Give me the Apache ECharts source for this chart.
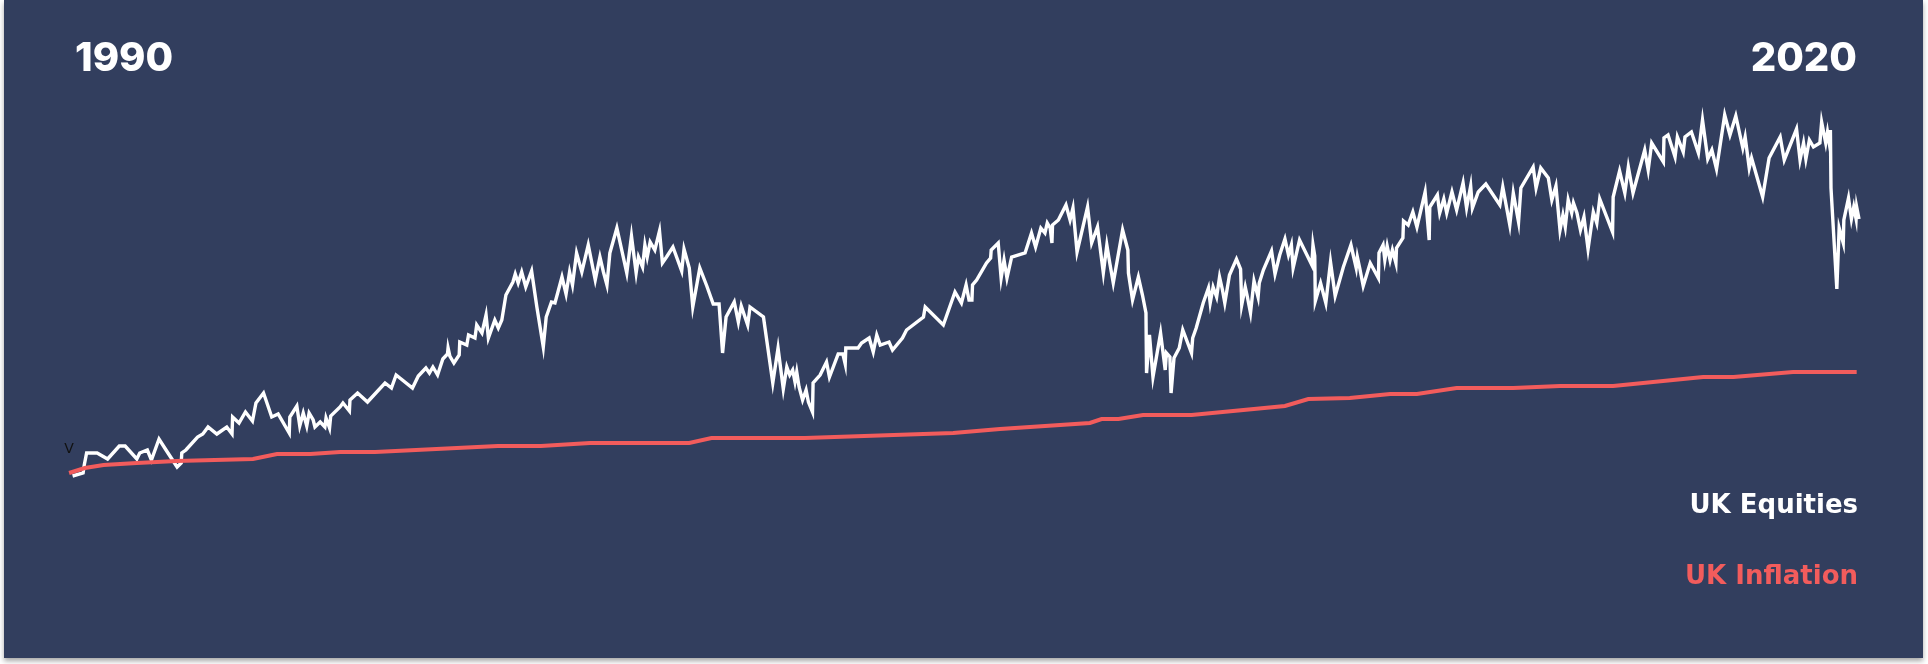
<!DOCTYPE html>
<html><head><meta charset="utf-8">
<script src="https://cdn.jsdelivr.net/npm/echarts/dist/echarts.min.js"></script>
<style>
html,body{margin:0;padding:0;background:#fff;width:1928px;height:664px;overflow:hidden}
#panel{position:absolute;left:4px;top:0;width:1919px;height:658px;background:#323E5E;box-shadow:0 3px 5px rgba(0,0,0,0.35)}
#chart{position:absolute;left:0;top:0;width:1928px;height:664px}
</style></head><body><div id="panel"></div><div id="chart"></div>
<script>
// years since Jan 1990, equity index values
var eqT = [0.01,0.19,0.21,0.24,0.25,0.43,0.61,0.81,0.91,1.11,1.16,1.29,1.36,1.49,1.61,1.80,1.87,1.88,1.95,2.15,2.24,2.33,2.48,2.65,2.74,2.75,2.86,2.97,3.09,3.15,3.28,3.42,3.53,3.72,3.73,3.85,3.90,3.96,4.02,4.06,4.13,4.16,4.25,4.33,4.35,4.41,4.43,4.59,4.64,4.75,4.76,4.89,5.06,
5.36,5.47,5.55,5.83,5.93,6.06,6.12,6.18,6.26,6.35,6.43,6.44,6.47,6.54,6.63,6.64,6.76,6.79,6.90,6.93,7.02,7.09,7.13,7.24,7.30,7.36,7.43,7.55,7.59,7.64,7.70,7.77,7.87,7.96,8.07,8.12,8.21,8.27,8.33,8.39,8.46,8.52,8.57,8.64,8.73,8.84,8.96,9.04,9.10,9.16,9.21,9.33,9.50,9.58,9.66,9.70,9.77,9.81,9.85,9.90,9.98,10.06,10.11,10.18,10.29,10.44,
10.48,10.57,10.63,10.75,10.87,10.98,11.08,11.14,11.20,11.34,11.41,11.46,11.57,11.61,11.84,12.00,12.09,12.18,12.24,12.29,12.34,12.38,12.41,12.45,12.51,12.57,12.61,12.68,12.69,12.81,12.92,12.97,13.12,13.20,13.24,13.25,13.46,13.52,13.65,13.72,13.78,13.84,13.99,14.05,14.22,14.29,14.58,14.61,14.92,15.12,15.23,15.31,15.36,15.41,15.42,15.49,15.66,15.73,15.74,
15.86,15.91,15.96,16.01,16.09,16.32,16.43,16.50,16.59,16.66,16.70,16.75,16.78,16.79,16.89,17.02,17.09,17.14,17.21,17.39,17.46,17.56,17.66,17.72,17.77,17.83,17.99,18.08,18.09,18.16,18.26,18.33,18.39,18.40,18.45,18.51,18.64,18.72,18.74,18.80,18.82,18.87,18.96,19.02,19.17,19.19,19.25,19.37,19.46,19.49,19.54,19.60,19.65,19.70,19.74,19.82,19.94,20.01,20.03,20.09,20.12,20.18,20.24,20.31,20.33,20.40,20.54,20.60,20.68,20.77,20.83,20.88,20.91,21.02,
21.23,21.25,21.28,21.29,21.38,21.47,21.55,21.63,21.77,21.90,21.99,22.01,22.05,22.11,22.23,22.37,22.38,22.45,22.48,22.52,22.57,22.61,22.67,22.68,22.79,22.80,22.88,22.96,23.03,23.17,23.24,23.25,23.38,23.42,23.49,23.54,23.63,23.71,23.82,23.88,23.95,23.98,24.08,24.21,24.45,24.50,24.62,24.68,24.77,24.81,25.02,25.07,25.15,25.28,25.34,25.41,
25.48,25.53,25.57,25.62,25.68,25.71,25.77,25.83,25.89,25.96,26.05,26.11,26.16,26.38,26.39,26.50,26.59,26.65,26.73,26.93,26.99,27.05,27.25,27.26,27.33,27.45,27.49,27.59,27.62,27.73,27.85,27.92,28.01,28.08,28.16,28.30,28.39,28.49,28.61,28.65,28.72,28.76,28.95,29.06,29.25,29.32,29.53,29.59,29.65,29.69,29.75,29.82,29.93,29.96,30.03,30.06,30.09,30.11,30.12,30.22,30.26,30.33,30.34,30.42,30.47,30.51,30.55,30.56,30.60];
var eqV = [98,101,109,111,121,121,115,128,128,115,121,124,114,135,124,107,111,121,124,137,140,147,140,147,140,157,151,162,153,171,181,157,160,141,157,168,148,161,148,161,154,147,152,147,156,146,158,167,171,163,174,181,172,
191,186,199,186,198,206,201,207,199,215,220,226,218,211,219,232,229,239,236,249,241,259,236,254,246,254,279,292,300,291,302,287,303,267,227,257,272,271,284,297,280,302,289,321,302,329,294,317,302,289,321,346,301,338,301,317,307,329,317,332,324,343,311,317,327,303,
325,306,267,306,288,270,270,221,257,272,252,268,249,267,257,191,226,185,207,199,204,192,202,187,174,184,172,162,191,199,212,197,220,220,210,226,226,231,236,222,239,229,232,224,236,244,257,267,249,282,271,289,274,274,289,294,311,316,324,
331,296,314,296,317,321,341,327,346,341,351,346,331,349,354,369,354,366,322,367,331,347,301,329,311,291,344,324,301,274,297,279,261,201,239,197,241,204,221,217,181,216,226,244,221,236,246,271,286,271,287,277,297,284,271,299,315,305,269,287,279,261,293,277,291,304,323,300,319,335,319,329,306,334,
309,329,318,273,291,271,312,278,307,329,306,317,306,288,311,296,321,329,314,328,314,324,311,326,336,353,349,362,347,382,334,367,379,361,375,361,382,364,391,366,388,366,382,390,369,387,349,381,352,386,407,386,406,396,374,388,
344,359,347,374,361,371,361,344,357,325,362,351,375,342,377,403,381,407,381,424,404,431,412,436,439,417,437,422,437,442,421,454,415,424,405,459,439,458,426,437,406,416,377,416,437,414,445,414,431,415,434,427,431,452,431,442,431,444,386,285,346,331,354,376,355,367,355,367,355];
var infT = [-0.05,0.22,0.54,1.11,1.79,3.10,3.51,4.08,4.59,5.19,7.29,8.03,8.87,10.57,10.95,12.55,15.09,15.89,17.43,17.63,17.92,18.34,19.17,20.77,21.17,21.88,22.57,23.03,23.71,24.68,25.48,26.39,27.93,28.45,29.47,30.56];
var infV = [101,106,109,111,113,115,120,120,122,122,128,128,131,131,136,136,141,145,151,155,155,159,159,168,175,176,180,180,186,186,188,188,197,197,202,202];
var startYear = 1990;
var yearLabels = ['1990', '2020'];
var seriesNames = ['UK Equities', 'UK Inflation'];

var eqData = eqT.map(function (t, i) { return [startYear + t, eqV[i]]; });
var infData = infT.map(function (t, i) { return [startYear + t, infV[i]]; });

var WHITE = '#FFFFFF', RED = '#F25C5C';
var FONT = 'Inter, "Open Sans", sans-serif';
var LFONT = '"DejaVu Sans", Inter, sans-serif';
var chart = echarts.init(document.getElementById('chart'), null, {renderer: 'canvas'});
chart.setOption({
  animation: false,
  backgroundColor: 'transparent',
  grid: {left: 66.16, right: 63.14, top: 100, bottom: 164, containLabel: false},
  xAxis: {type: 'value', min: 1989.9, max: 2020.7, show: false},
  yAxis: {type: 'value', min: 74, max: 474, show: false},
  series: [
    {name: seriesNames[0], type: 'line', data: eqData, showSymbol: false, symbol: 'none',
     lineStyle: {color: WHITE, width: 3.4, join: 'miter'}, z: 2},
    {name: seriesNames[1], type: 'line', data: infData, showSymbol: false, symbol: 'none',
     lineStyle: {color: RED, width: 4, join: 'miter'}, z: 3}
  ],
  graphic: [
    {type: 'text', x: 75, y: 59, style: {text: yearLabels[0], fill: WHITE, font: '800 40px ' + FONT, textAlign: 'left', textVerticalAlign: 'middle'}},
    {type: 'text', x: 1857, y: 59, style: {text: yearLabels[1], fill: WHITE, font: '800 40px ' + FONT, textAlign: 'right', textVerticalAlign: 'middle'}},
    {type: 'text', x: 1858, y: 506, style: {text: seriesNames[0], fill: WHITE, font: 'bold 26px ' + LFONT, textAlign: 'right', textVerticalAlign: 'middle'}},
    {type: 'text', x: 1858, y: 577, style: {text: seriesNames[1], fill: RED, font: 'bold 26px ' + LFONT, textAlign: 'right', textVerticalAlign: 'middle'}},
    {type: 'text', x: 69, y: 449, style: {text: 'V', fill: '#111111', font: '400 14px "DejaVu Sans", sans-serif', textAlign: 'center', textVerticalAlign: 'middle'}}
  ]
});
</script></body></html>
